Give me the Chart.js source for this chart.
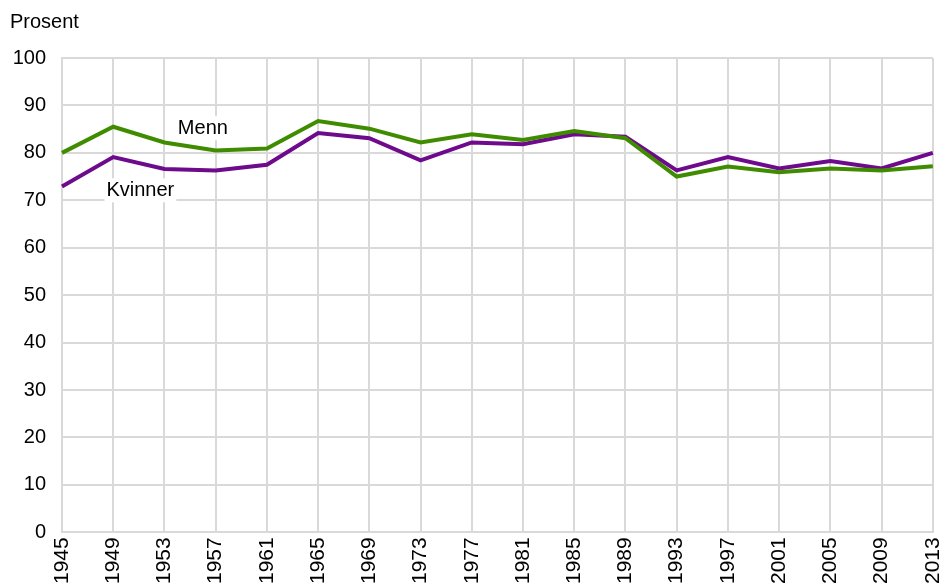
<!DOCTYPE html>
<html>
<head>
<meta charset="utf-8">
<script src="https://cdn.jsdelivr.net/npm/chart.js@4.4.1/dist/chart.umd.min.js"></script>
<style>
  html, body { margin: 0; padding: 0; background: #fff; overflow: hidden; }
  #wrap { width: 939px; height: 583px; overflow: hidden; position: relative; }
  canvas { display: block; }
</style>
</head>
<body>
<div id="wrap"><canvas id="valgChart" width="963" height="610"></canvas></div>
<script>
// Data
const years = ['1945', '1949', '1953', '1957', '1961', '1965', '1969', '1973', '1977',
  '1981', '1985', '1989', '1993', '1997', '2001', '2005', '2009', '2013'];
const menn = [80.0, 85.5, 82.2, 80.5, 80.9, 86.7, 85.1, 82.2, 83.9,
  82.7, 84.6, 83.1, 75.0, 77.1, 75.9, 76.7, 76.3, 77.2];
const kvinner = [72.9, 79.1, 76.6, 76.3, 77.5, 84.2, 83.1, 78.4, 82.2,
  81.8, 83.9, 83.4, 76.3, 79.1, 76.7, 78.3, 76.7, 80.0];
const seriesNames = ['Menn', 'Kvinner'];

const fontFamily = '"Liberation Sans", Arial, sans-serif';

// Labels drawn next to the lines, with white box behind
const lineLabels = {
    id: 'lineLabels',
    afterDatasetsDraw(chart) {
        const { ctx, scales } = chart;
        const spots = [
            { text: seriesNames[0], x: 2.75, y: 85.2 },
            { text: seriesNames[1], x: 1.53, y: 72.1 }
        ];
        ctx.save();
        ctx.font = '20px ' + fontFamily;
        ctx.textAlign = 'center';
        ctx.textBaseline = 'middle';
        spots.forEach(s => {
            const px = scales.x.getPixelForValue(s.x);
            const py = scales.y.getPixelForValue(s.y);
            const w = ctx.measureText(s.text).width;
            ctx.fillStyle = '#fff';
            ctx.fillRect(px - w / 2 - 2, py - 12, w + 4, 24);
            ctx.fillStyle = '#000';
            ctx.fillText(s.text, px, py);
        });
        ctx.restore();
    }
};

const ctx = document.getElementById('valgChart').getContext('2d');
const valgChart = new Chart(ctx, {
    type: 'line',
    data: {
        labels: years,
        datasets: [{
            label: seriesNames[0],
            data: menn,
            borderColor: '#408c00',
            borderWidth: 4,
            pointRadius: 0,
            tension: 0
        }, {
            label: seriesNames[1],
            data: kvinner,
            borderColor: '#6e0a8c',
            borderWidth: 4,
            pointRadius: 0,
            tension: 0
        }]
    },
    options: {
        responsive: false,
        animation: false,
        layout: {
            padding: { left: 10, right: 0, top: 0, bottom: 21 }
        },
        plugins: {
            legend: { display: false },
            tooltip: { enabled: false },
            title: {
                display: true,
                text: 'Prosent',
                align: 'start',
                color: '#000',
                font: { family: fontFamily, size: 20, weight: 'normal' },
                padding: { top: 10, bottom: 24 }
            }
        },
        scales: {
            x: {
                offset: false,
                grid: { color: '#d9d9d9', lineWidth: 2, drawTicks: false },
                border: { color: '#d9d9d9', width: 2 },
                ticks: {
                    color: '#000',
                    autoSkip: false,
                    minRotation: 90,
                    maxRotation: 90,
                    padding: 5,
                    font: { family: fontFamily, size: 21 }
                }
            },
            y: {
                min: 0,
                max: 100,
                afterFit: (axis) => { axis.width = 52; },
                grid: { color: '#d9d9d9', lineWidth: 2, drawTicks: false },
                border: { color: '#d9d9d9', width: 2 },
                ticks: {
                    stepSize: 10,
                    color: '#000',
                    padding: 16,
                    font: { family: fontFamily, size: 20 }
                }
            }
        }
    },
    plugins: [lineLabels]
});
</script>
</body>
</html>
